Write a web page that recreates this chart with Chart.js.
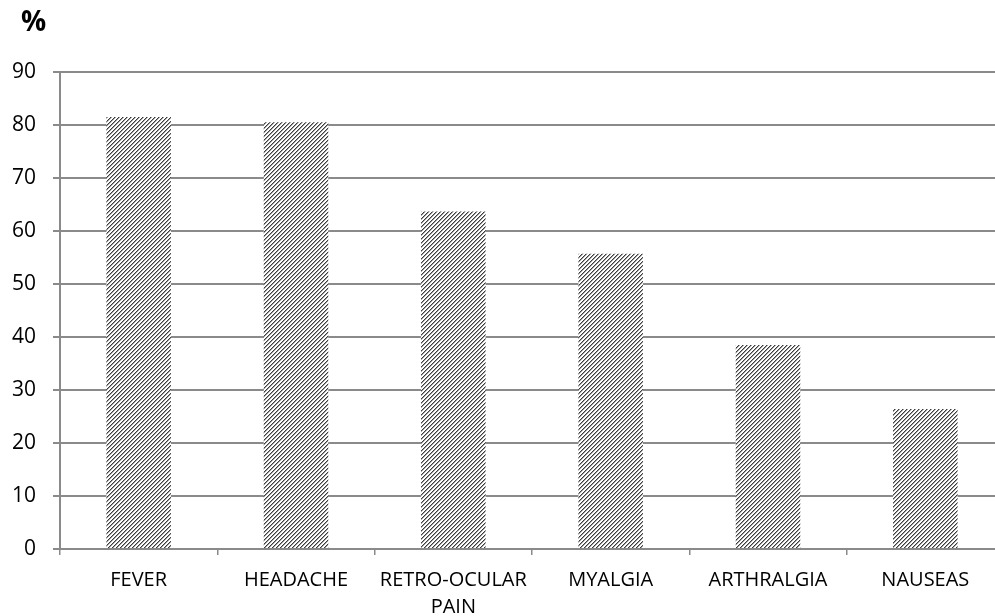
<!DOCTYPE html>
<html>
<head>
<meta charset="utf-8">
<script src="https://cdn.jsdelivr.net/npm/chart.js@4.4.0/dist/chart.umd.min.js"></script>
<style>
  html, body { margin: 0; padding: 0; background: #fff; overflow: hidden; }
  #wrap { position: relative; width: 1010px; height: 616px; }
  #pct { position: absolute; left: 21px; top: 1px; font: bold 28px "Open Sans", sans-serif; color: #000; }
</style>
</head>
<body>
<div id="wrap">
  <div id="pct">%</div>
  <canvas id="mycanvas" width="1010" height="616"></canvas>
</div>
<script>
// symptom frequency, percent of patients
var symptoms = ["FEVER", "HEADACHE", ["RETRO-OCULAR", "PAIN"], "MYALGIA", "ARTHRALGIA", "NAUSEAS"];
var percent = [81.5, 80.5, 63.7, 55.7, 38.5, 26.4];
var yTicks = [0, 10, 20, 30, 40, 50, 60, 70, 80, 90];

// diagonal hatch like the office "wide upward diagonal" fill
function hatch() {
    var c = document.createElement("canvas");
    c.width = 4; c.height = 4;
    var g = c.getContext("2d");
    g.fillStyle = "#fff";
    g.fillRect(0, 0, 4, 4);
    for (var y = 0; y < 4; y++) {
        g.fillStyle = "#3c3c3c";
        g.fillRect(3 - y, y, 1, 1);
        g.fillStyle = "#a0a0a0";
        g.fillRect((4 - y) % 4, y, 1, 1);
    }
    return g.createPattern(c, "repeat");
}

var gridGrey = "#8a8a8a";
var ctx = document.getElementById("mycanvas");

var barGraph = new Chart(ctx, {
    type: "bar",
    data: {
        labels: symptoms,
        datasets: [{
            label: "%",
            data: percent,
            backgroundColor: hatch(),
            borderWidth: 0,
            barPercentage: 0.41,
            categoryPercentage: 1
        }]
    },
    options: {
        responsive: false,
        animation: false,
        layout: { padding: { top: 72, right: 6, left: 0, bottom: 0 } },
        plugins: { legend: { display: false }, tooltip: { enabled: false } },
        scales: {
            x: {
                afterFit: function(s) { s.height = 67; },
                grid: { drawOnChartArea: false, drawTicks: true, tickLength: 6, color: gridGrey, lineWidth: 1.5 },
                border: { color: gridGrey, width: 2 },
                ticks: {
                    color: "#000",
                    padding: 12,
                    maxRotation: 0,
                    autoSkip: false,
                    font: { family: "Open Sans", size: 20, lineHeight: 1.35 }
                }
            },
            y: {
                min: 0,
                max: 90,
                afterFit: function(s) { s.width = 60; },
                afterBuildTicks: function(s) { s.ticks = yTicks.map(function(v) { return { value: v }; }); },
                grid: { color: gridGrey, lineWidth: 2, tickLength: 7 },
                border: { color: gridGrey, width: 2 },
                ticks: {
                    color: "#000",
                    padding: 17,
                    font: { family: "Open Sans", size: 21 }
                }
            }
        }
    }
});
</script>
</body>
</html>
